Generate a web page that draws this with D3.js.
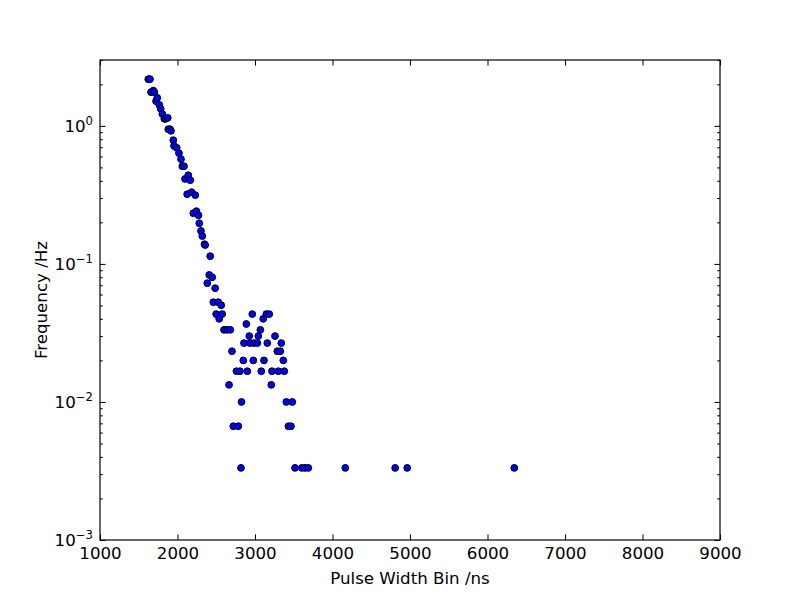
<!DOCTYPE html>
<html>
<head>
<meta charset="utf-8">
<script src="https://cdn.jsdelivr.net/npm/d3@7/dist/d3.min.js"></script>
<style>
  html, body { margin: 0; padding: 0; background: #fff; }
  text { font-family: "DejaVu Sans", sans-serif; fill: #000; }
</style>
</head>
<body>
<svg id="chart" width="800" height="600"></svg>
<script>
// ---- data ----
const pulseWidth = [
  1623, 1645, 1658, 1688, 1701, 1723, 1739, 1765, 1783, 1804,
  1830, 1848, 1874, 1881, 1903, 1916, 1946, 1955, 1990, 2019,
  2045, 2062, 2084, 2097, 2139, 2165, 2125, 2182, 2230, 2204,
  2244, 2271, 2281, 2303, 2320, 2348, 2357, 2422, 2409, 2448,
  2384, 2486, 2462, 2526, 2564, 2499, 2577, 2538, 2600, 2639,
  2681, 2703, 2665, 2720, 2784, 2760, 2806, 2826, 2819,
  2965, 3146, 3184, 2888, 3106, 3069, 2926, 3043, 3258,
  2858, 2935, 2987, 3030, 3159, 3339, 3288, 3326,
  2849, 2978, 3116, 3365, 2901, 3081, 3219, 3301, 3378,
  3210, 3404, 3481, 3431, 3464,
  3516, 3603, 3645, 3688, 4165, 4809, 4964, 6345
];
const frequency = [
  2.18, 2.18, 1.755, 1.80, 1.755, 1.51, 1.596, 1.42, 1.33, 1.22,
  1.124, 1.124, 1.143, 0.946, 0.946, 0.92, 0.788, 0.716, 0.693, 0.634,
  0.574, 0.51, 0.51, 0.413, 0.439, 0.404, 0.32, 0.331, 0.315, 0.233,
  0.241, 0.225, 0.197, 0.1735, 0.159, 0.139, 0.137, 0.1138, 0.0832, 0.080,
  0.0725, 0.0667, 0.0528, 0.0528, 0.0502, 0.0433, 0.0433, 0.0400, 0.0333, 0.0333,
  0.0333, 0.0233, 0.0133, 0.00667, 0.00667, 0.0167, 0.0167, 0.0100, 0.00333,
  0.0433, 0.0433, 0.0433, 0.0367, 0.0400, 0.0333, 0.0300, 0.0300, 0.0300,
  0.0267, 0.0267, 0.0267, 0.0267, 0.0267, 0.0267, 0.0233, 0.0233,
  0.0200, 0.0200, 0.0200, 0.0200, 0.0167, 0.0167, 0.0167, 0.0167, 0.0167,
  0.0133, 0.0100, 0.0100, 0.00667, 0.00667,
  0.00333, 0.00333, 0.00333, 0.00333, 0.00333, 0.00333, 0.00333, 0.00333
];
const xTicks = [1000, 2000, 3000, 4000, 5000, 6000, 7000, 8000, 9000];
const yExponents = [-3, -2, -1, 0];
const xDomain = [1000, 9000];
const yDomain = [1e-3, 3];
const xLabel = "Pulse Width Bin /ns";
const yLabel = "Frequency /Hz";

// ---- layout ----
const L = 100, R = 720, T = 60, B = 540;
const FS = 16.67;
const svg = d3.select("#chart");
svg.append("rect").attr("width", 800).attr("height", 600).attr("fill", "#fff");

const x = d3.scaleLinear().domain(xDomain).range([L, R]);
const y = d3.scaleLog().domain(yDomain).range([B, T]);

const yMajor = yExponents.map(e => Math.pow(10, e));
const yMinor = [];
yExponents.forEach(e => {
  for (let k = 2; k <= 9; k++) {
    const v = k * Math.pow(10, e);
    if (v <= yDomain[1]) yMinor.push(v);
  }
});

function styleAxis(g) {
  g.select(".domain").remove();
  g.selectAll(".tick line").attr("stroke", "#000").attr("stroke-width", 1);
}

// bottom axis with labels
svg.append("g").attr("transform", `translate(0,${B})`)
  .call(d3.axisBottom(x).tickValues(xTicks).tickSize(-5.6).tickPadding(7).tickFormat(d3.format("d")))
  .call(styleAxis)
  .call(g => g.selectAll("text").attr("font-size", FS).attr("font-family", "DejaVu Sans"));
// top axis
svg.append("g").attr("transform", `translate(0,${T})`)
  .call(d3.axisTop(x).tickValues(xTicks).tickSize(-5.6).tickFormat(""))
  .call(styleAxis);
// left axis major / minor
svg.append("g").attr("transform", `translate(${L},0)`)
  .call(d3.axisLeft(y).tickValues(yMajor).tickSize(-5.6).tickFormat(""))
  .call(styleAxis);
svg.append("g").attr("transform", `translate(${L},0)`)
  .call(d3.axisLeft(y).tickValues(yMinor).tickSize(-2.8).tickFormat(""))
  .call(styleAxis);
// right axis major / minor
svg.append("g").attr("transform", `translate(${R},0)`)
  .call(d3.axisRight(y).tickValues(yMajor).tickSize(-5.6).tickFormat(""))
  .call(styleAxis);
svg.append("g").attr("transform", `translate(${R},0)`)
  .call(d3.axisRight(y).tickValues(yMinor).tickSize(-2.8).tickFormat(""))
  .call(styleAxis);

// y tick labels (10^e)
const yl = svg.append("g");
yExponents.forEach(e => {
  const t = yl.append("text")
    .attr("x", L - 7)
    .attr("y", y(Math.pow(10, e)) + 6)
    .attr("text-anchor", "end")
    .attr("font-size", FS);
  t.append("tspan").text("10");
  t.append("tspan").attr("dy", -7).attr("font-size", FS * 0.7)
    .text(e < 0 ? "\u2212" + Math.abs(e) : String(e));
});

// points
svg.append("g").selectAll("circle")
  .data(pulseWidth.map((p, i) => [p, frequency[i]]))
  .join("circle")
  .attr("cx", d => x(d[0]))
  .attr("cy", d => y(d[1]))
  .attr("r", 3.4)
  .attr("fill", "#0000ff")
  .attr("stroke", "#000")
  .attr("stroke-width", 1);

// frame
svg.append("rect")
  .attr("x", L).attr("y", T).attr("width", R - L).attr("height", B - T)
  .attr("fill", "none").attr("stroke", "#000").attr("stroke-width", 1.2);

// axis labels
svg.append("text").attr("x", (L + R) / 2).attr("y", 584)
  .attr("text-anchor", "middle").attr("font-size", FS).text(xLabel);
svg.append("text").attr("transform", "translate(47,300) rotate(-90)")
  .attr("text-anchor", "middle").attr("font-size", FS).text(yLabel);
</script>
</body>
</html>
